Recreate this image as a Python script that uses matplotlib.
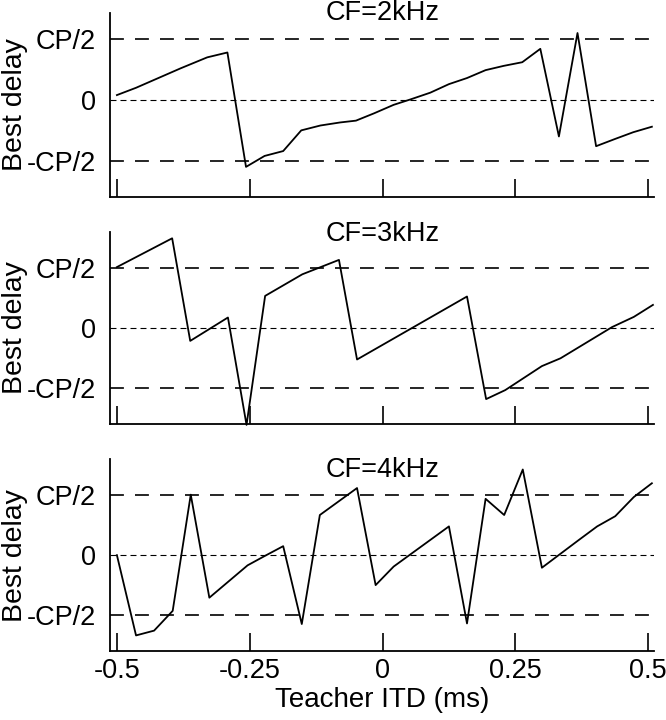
import matplotlib
matplotlib.use('Agg')
import matplotlib.pyplot as plt

plt.rcParams['font.family'] = ['Liberation Sans', 'DejaVu Sans']
plt.rcParams['axes.unicode_minus'] = False
plt.rcParams['lines.scale_dashes'] = False

# ---- data (Best delay in units of characteristic period CP) ----
itd_2k = [-0.50, -0.464, -0.38, -0.33, -0.292, -0.257, -0.222, -0.187, -0.153, -0.117,
          -0.08, -0.05, -0.016, 0.021, 0.053, 0.09, 0.125, 0.159, 0.194, 0.228,
          0.263, 0.297, 0.332, 0.367, 0.402, 0.438, 0.472, 0.507]
bd_2k = [0.04, 0.10, 0.26, 0.35, 0.39, -0.55, -0.46, -0.42, -0.25, -0.21,
         -0.185, -0.17, -0.11, -0.04, 0.005, 0.06, 0.13, 0.18, 0.245, 0.28,
         0.31, 0.42, -0.30, 0.55, -0.38, -0.32, -0.265, -0.22]

itd_3k = [-0.50, -0.396, -0.362, -0.291, -0.256, -0.221, -0.151, -0.082, -0.048,
          0.159, 0.195, 0.231, 0.30, 0.335, 0.432, 0.473, 0.509]
bd_3k = [0.505, 0.745, -0.11, 0.085, -0.81, 0.265, 0.445, 0.565, -0.265,
         0.26, -0.595, -0.52, -0.32, -0.255, 0.005, 0.09, 0.19]

itd_4k = [-0.50, -0.464, -0.43, -0.395, -0.361, -0.326, -0.254, -0.223, -0.187, -0.152,
          -0.118, -0.048, -0.013, 0.021, 0.125, 0.159, 0.194, 0.229, 0.264, 0.30,
          0.369, 0.404, 0.438, 0.473, 0.507]
bd_4k = [0.0, -0.67, -0.63, -0.465, 0.505, -0.355, -0.085, -0.01, 0.075, -0.575,
         0.335, 0.56, -0.25, -0.095, 0.24, -0.57, 0.47, 0.335, 0.715, -0.105,
         0.125, 0.24, 0.325, 0.485, 0.6]

panel_titles = ['CF=2kHz', 'CF=3kHz', 'CF=4kHz']
ytick_vals = [0.5, 0.0, -0.5]
ytick_labels = ['CP/2', '0', '-CP/2']
xtick_vals = [-0.5, -0.25, 0, 0.25, 0.5]
xtick_labels = ['-0.5', '-0.25', '0', '0.25', '0.5']

series = [(itd_2k, bd_2k), (itd_3k, bd_3k), (itd_4k, bd_4k)]

# ---- layout ----
W, H = 666, 720
fig = plt.figure(figsize=(W / 100, H / 100), dpi=100)
left_px, right_px = 110, 654
panels_px = [(13.3, 196.7), (231.7, 423.7), (459.3, 651.0)]
ylims = [(-0.795, 0.712), (-0.8, 0.8), (-0.8, 0.8)]
title_y = [0.962, 0.95, 0.909]

FS = 19.5
for i, ((top, bot), (xs, ys)) in enumerate(zip(panels_px, series)):
    ax = fig.add_axes([left_px / W, 1 - bot / H, (right_px - left_px) / W, (bot - top) / H])
    ax.plot(xs, ys, color='black', lw=1.3, clip_on=False, zorder=3)
    ax.axhline(0.5, color='black', lw=1.2, dashes=(10, 8), zorder=2)
    ax.axhline(-0.5, color='black', lw=1.2, dashes=(10, 8), zorder=2)
    ax.axhline(0.0, color='black', lw=0.8, dashes=(4.3, 2.9), zorder=2)
    ax.set_xlim(-0.513, 0.511)
    ax.set_ylim(*ylims[i])
    for s in ['top', 'right']:
        ax.spines[s].set_visible(False)
    for s in ['left', 'bottom']:
        ax.spines[s].set_linewidth(1.3)
    ax.set_xticks(xtick_vals)
    ax.tick_params(axis='x', direction='in', length=13, width=1.2, pad=5, labelsize=FS)
    if i < 2:
        ax.set_xticklabels([])
    else:
        ax.set_xticklabels(xtick_labels)
        ax.set_xlabel('Teacher ITD (ms)', fontsize=20)
        ax.xaxis.set_label_coords(0.5, -0.19)
    ax.set_yticks(ytick_vals)
    ax.set_yticklabels(ytick_labels)
    ax.tick_params(axis='y', length=0, pad=10, labelsize=FS)
    ax.set_ylabel('Best delay', fontsize=20.5)
    ax.yaxis.set_label_coords(-0.15, 0.5)
    ax.text(0, title_y[i], panel_titles[i], transform=ax.get_xaxis_transform(),
            ha='center', va='baseline', fontsize=FS)

fig.savefig('out.png', dpi=100)
